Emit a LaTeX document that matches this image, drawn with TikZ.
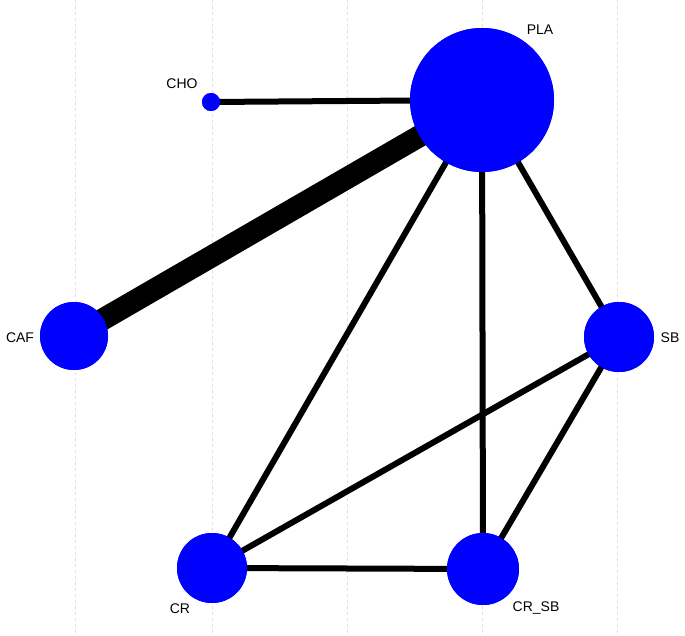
\documentclass[tikz,border=0pt]{standalone}
\usepackage{fontspec}
\setmainfont{Liberation Sans}
\begin{document}
\begin{tikzpicture}[x=1pt,y=-1pt,
  grid/.style={draw=gray!25,dashed,line width=1pt},
  edge/.style={line width=6pt,black},
  trt/.style={circle,fill=blue,inner sep=0pt},
  lab/.style={font=\fontsize{14}{14}\selectfont}]
\useasboundingbox[fill=white] (0,0) rectangle (685,636);
\foreach \x in {75,212,347,482,617} \draw[grid] (\x,0) -- (\x,636);
\node[trt,minimum size=144pt] (PLA) at (482,100) {};
\node[trt,minimum size=18pt] (CHO) at (211,102) {};
\node[trt,minimum size=68pt] (CAF) at (74,336) {};
\node[trt,minimum size=70pt] (SB) at (619,337) {};
\node[trt,minimum size=70pt] (CR) at (212,568) {};
\node[trt,minimum size=72pt] (CRSB) at (483,569) {};
\begin{scope}[on background layer/.style={}]
\end{scope}
\draw[line width=22pt] (CAF.center) -- (PLA.center);
\draw[edge] (CHO.center) -- (PLA.center);
\draw[edge] (PLA.center) -- (SB.center);
\draw[edge] (PLA.center) -- (CR.center);
\draw[edge] (PLA.center) -- (CRSB.center);
\draw[edge] (SB.center) -- (CR.center);
\draw[edge] (SB.center) -- (CRSB.center);
\draw[edge] (CR.center) -- (CRSB.center);
\node[trt,minimum size=144pt] at (PLA) {};
\node[trt,minimum size=18pt] at (CHO) {};
\node[trt,minimum size=68pt] at (CAF) {};
\node[trt,minimum size=70pt] at (SB) {};
\node[trt,minimum size=70pt] at (CR) {};
\node[trt,minimum size=72pt] at (CRSB) {};
\node[lab] (lPLA) at (540,30) {PLA};
\node[lab] (lCHO) at (182,84) {CHO};
\node[lab] (lCAF) at (20,338) {CAF};
\node[lab] (lSB) at (670,338) {SB};
\node[lab] (lCR) at (180,609) {CR};
\node[lab] (lCRSB) at (536,608) {CR\_SB};
\end{tikzpicture}
\end{document}
